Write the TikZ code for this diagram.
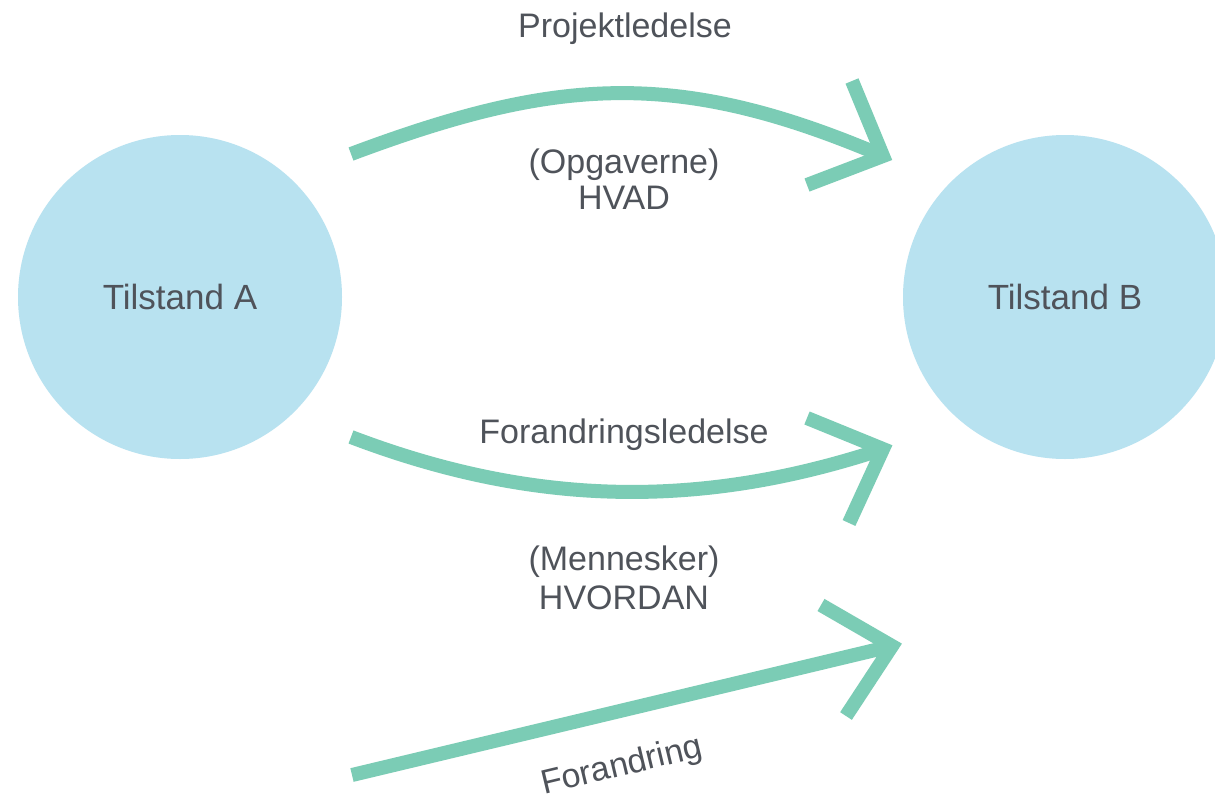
\documentclass[tikz,border=0pt]{standalone}
\usepackage{fontspec}
\setmainfont{Liberation Sans}
\definecolor{flowteal}{HTML}{7BCCB5}
\definecolor{stateblue}{HTML}{B8E2F0}
\definecolor{ink}{HTML}{4F535A}
\begin{document}
\begin{tikzpicture}[x=1pt,y=-1pt,
  flow/.style={draw=flowteal, line width=14pt, line cap=butt},
  barb/.style={flow, line join=miter, miter limit=4},
  stateball/.style={circle, fill=stateblue, minimum size=324pt, inner sep=0pt,
    text=ink, font=\fontsize{35}{42}\selectfont},
  lbl/.style={text=ink, font=\fontsize{34}{40}\selectfont, anchor=base, inner sep=0pt}]
  % canvas
  \useasboundingbox (0,0) rectangle (1215,800);
  \clip (0,0) rectangle (1215,800);
  \fill[white] (0,0) rectangle (1215,800);

  % the two states
  \node[stateball] (A) at (180,297) {Tilstand A};
  \node[stateball] (B) at (1065,297) {Tilstand B};

  % upper arc: project management
  \coordinate (s1) at (351,154);
  \coordinate (c1a) at (559,76);
  \coordinate (c1b) at (679,69);
  \coordinate (t1) at (883,156);
  \coordinate (b1u) at (852,81);
  \coordinate (b1d) at (807,185);
  \draw[flow] (s1) .. controls (c1a) and (c1b) .. (t1);
  \draw[barb] (b1u) -- (t1) -- (b1d);

  % lower arc: change management
  \coordinate (s2) at (351,437);
  \coordinate (c2a) at (532,506);
  \coordinate (c2b) at (699,510);
  \coordinate (t2) at (883,449);
  \coordinate (b2u) at (807,418);
  \coordinate (b2d) at (849,523);
  \draw[flow] (s2) .. controls (c2a) and (c2b) .. (t2);
  \draw[barb] (b2u) -- (t2) -- (b2d);

  % straight arrow: change
  \coordinate (s3) at (352,775);
  \coordinate (t3) at (892,646);
  \coordinate (b3u) at (821,605);
  \coordinate (b3d) at (846,716);
  \draw[flow] (s3) -- (t3);
  \draw[barb] (b3u) -- (t3) -- (b3d);

  % labels
  \node[lbl] (pl) at (625,38) {Projektledelse};
  \node[lbl] (og) at (624,173) {(Opgaverne)};
  \node[lbl] (hv) at (624,209) {HVAD};
  \node[lbl] (fl) at (624,443) {Forandringsledelse};
  \node[lbl] (me) at (624,570) {(Mennesker)};
  \node[lbl] (ho) at (624,609) {HVORDAN};
  \node[lbl, anchor=center, rotate=13.5] (fo) at (622,767) {Forandring};
\end{tikzpicture}
\end{document}
